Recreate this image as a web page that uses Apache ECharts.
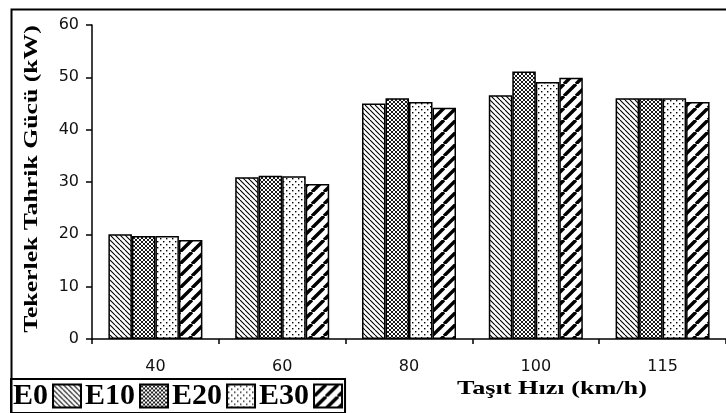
<!DOCTYPE html>
<html><head><meta charset="utf-8">
<script src="https://cdn.jsdelivr.net/npm/echarts@6/dist/echarts.min.js"></script>
<style>html,body{margin:0;padding:0;background:#fff}#c{width:726px;height:413px}</style>
</head><body><div id="c"></div>
<script>
const categories = ['40', '60', '80', '100', '115'];
const seriesNames = ['E0', 'E10', 'E20', 'E30'];
const E0  = [20.0, 30.9, 45.0, 46.6, 46.0];
const E10 = [19.7, 31.2, 46.0, 51.1, 46.0];
const E20 = [19.7, 31.1, 45.3, 49.1, 46.0];
const E30 = [18.9, 29.6, 44.2, 49.9, 45.3];
const yTicks = [0, 10, 20, 30, 40, 50, 60];
const yTitle = 'Tekerlek Tahrik Gücü (kW)';
const xTitle = 'Taşıt Hızı (km/h)';

function mk(size, draw) {
  const c = document.createElement('canvas');
  c.width = c.height = size;
  const g = c.getContext('2d');
  g.fillStyle = '#fff'; g.fillRect(0, 0, size, size);
  g.strokeStyle = '#000'; g.fillStyle = '#000';
  draw(g, size);
  return { image: c, repeat: 'repeat' };
}
const patE0 = mk(5, (g, s) => { g.lineWidth = 1.1; g.beginPath();
  for (const k of [-1, 0, 1]) { g.moveTo(k * s, 0); g.lineTo(k * s + s, s); } g.stroke(); });
const patE10 = mk(4, (g, s) => { g.lineWidth = 0.9; g.beginPath();
  for (const k of [-1, 0, 1]) { g.moveTo(k * s, 0); g.lineTo(k * s + s, s); g.moveTo(k * s, s); g.lineTo(k * s + s, 0); } g.stroke(); });
const patE20 = mk(6, (g, s) => { g.fillRect(1, 1, 1.4, 1.4); g.fillRect(4, 4, 1.4, 1.4); });
const patE30 = mk(12, (g, s) => { g.lineWidth = 3.4; g.beginPath();
  for (const k of [-1, 0, 1]) { g.moveTo(k * s, s); g.lineTo(k * s + s, 0); } g.stroke(); });
const pats = [patE0, patE10, patE20, patE30];
const datas = [E0, E10, E20, E30];

const chart = echarts.init(document.getElementById('c'), null, { renderer: 'canvas' });
chart.setOption({
  backgroundColor: '#fff',
  animation: false,
  grid: { left: 92, top: 25, width: 645, height: 314 },
  legend: {
    left: 11, top: 379, orient: 'horizontal', align: 'right',
    icon: 'rect', itemWidth: 28, itemHeight: 23, itemGap: 3,
    padding: [2, 2, 2, 2], borderColor: '#000', borderWidth: 2,
    textStyle: { fontFamily: 'Liberation Serif', fontWeight: 'bold', fontSize: 30, color: '#000', lineHeight: 28 },
    data: seriesNames
  },
  xAxis: {
    type: 'category', data: categories,
    axisLine: { lineStyle: { color: '#000', width: 1.5 } },
    axisTick: { show: true, length: 5, inside: false, lineStyle: { color: '#000', width: 1.5 } },
    axisLabel: { fontFamily: 'DejaVu Sans', fontSize: 16, color: '#111', margin: 20 },
    splitLine: { show: false }
  },
  yAxis: {
    type: 'value', min: 0, max: 60, interval: 10,
    axisLine: { show: true, lineStyle: { color: '#000', width: 1.5 } },
    axisTick: { show: true, length: 6, lineStyle: { color: '#000', width: 1.5 } },
    axisLabel: { fontFamily: 'DejaVu Sans', fontSize: 16, color: '#111', margin: 13,
      formatter: v => yTicks.includes(v) ? String(v) : '' },
    splitLine: { show: false }
  },
  graphic: [
    { type: 'rect', left: 9, top: 7, shape: { width: 740, height: 420 }, silent: true, z: -10,
      style: { fill: 'none', stroke: '#000', lineWidth: 2 } },
    { type: 'text', x: 32, y: 179, rotation: Math.PI / 2, scaleX: 1.43, silent: true,
      style: { text: yTitle, font: 'bold 18px "Liberation Serif"', fill: '#000', align: 'center', verticalAlign: 'middle' } },
    { type: 'text', x: 552, y: 389, scaleX: 1.38, silent: true,
      style: { text: xTitle, font: 'bold 19px "Liberation Serif"', fill: '#000', align: 'center', verticalAlign: 'middle' } }
  ],
  series: seriesNames.map((n, i) => ({
    name: n, type: 'bar', data: datas[i],
    barWidth: 23.5, barGap: '0%',
    itemStyle: { color: pats[i], borderColor: '#000', borderWidth: 1.5 }
  }))
});
</script></body></html>
